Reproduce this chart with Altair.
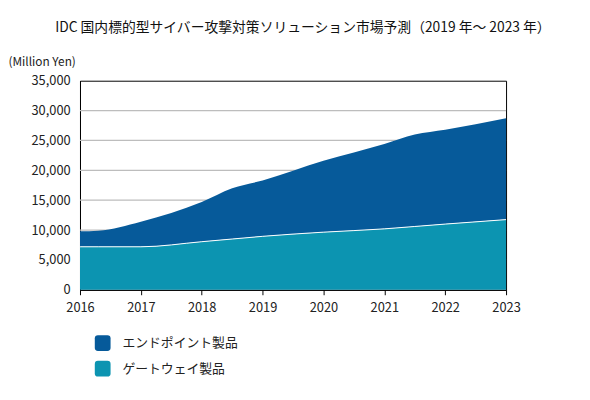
import altair as alt
import pandas as pd

years = [2016, 2016.3, 2017, 2018, 2018.5, 2019, 2020, 2021, 2021.5, 2022, 2023]
gateway = [7200, 7200, 7200, 8050, 8500, 8950, 9650, 10200, 10600, 11000, 11750]
total = [9800, 9900, 11400, 14700, 17000, 18300, 21600, 24400, 26000, 26800, 28700]
endpoint = [t - g for t, g in zip(total, gateway)]
yticks = [0, 5000, 10000, 15000, 20000, 25000, 30000, 35000]
xticks = [2016, 2017, 2018, 2019, 2020, 2021, 2022, 2023]

series = ["エンドポイント製品", "ゲートウェイ製品"]
colors = ["#065A9A", "#0C94B1"]

rows = []
for x, e, g in zip(years, endpoint, gateway):
    rows.append({"year": x, "series": series[0], "value": e, "ord": 2})
    rows.append({"year": x, "series": series[1], "value": g, "ord": 1})
df = pd.DataFrame(rows)
gdf = pd.DataFrame({"year": years, "value": gateway})
tdf = pd.DataFrame({"value": yticks[1:-1]})

FONT = "Noto Sans CJK JP"
rounded = ("M -0.6,-1 L 0.6,-1 Q 1,-1 1,-0.6 L 1,0.6 Q 1,1 0.6,1 "
           "L -0.6,1 Q -1,1 -1,0.6 L -1,-0.6 Q -1,-1 -0.6,-1 Z")

xscale = alt.Scale(domain=[2016, 2023], nice=False)
yscale = alt.Scale(domain=[0, 35000], nice=False)

yaxis = alt.Axis(values=yticks, format=",.0f", ticks=False,
                 labelOverlap=False, domainColor="#000", grid=False, labelFontSize=13,
                 labelColor="#222", labelFont=FONT, labelPadding=10,
                 title="(Million Yen)", titleAngle=0, titleAlign="left",
                 titleBaseline="middle", titleX=-73, titleY=-19, titleFontSize=12,
                 titleFontWeight="normal", titleFont=FONT, titleColor="#222")
xaxis = alt.Axis(values=xticks, format="d", title=None, grid=False,
                 labelFontSize=13, labelColor="#222", labelFont=FONT, tickSize=5,
                 tickColor="#000", domainColor="#000", labelPadding=7, labelFlush=False,
                 labelOverlap=False)

grid = alt.Chart(tdf).mark_rule(color="#bdbdbd", strokeWidth=1.2).encode(
    y=alt.Y("value:Q", scale=yscale, axis=yaxis),
)

area = alt.Chart(df).mark_area(interpolate="monotone").encode(
    x=alt.X("year:Q", scale=xscale, axis=xaxis),
    y=alt.Y("value:Q", stack="zero", scale=yscale, axis=yaxis),
    color=alt.Color("series:N", scale=alt.Scale(domain=series, range=colors),
                    legend=alt.Legend(title=None, orient="none", legendX=15, legendY=258,
                                      symbolType=rounded, symbolSize=256, symbolStrokeWidth=0,
                                      labelFontSize=13, labelFont=FONT, labelColor="#222",
                                      rowPadding=10, labelOffset=12)),
    order=alt.Order("ord:Q"),
)

line = alt.Chart(gdf).mark_line(color="white", strokeWidth=1, interpolate="monotone").encode(
    x=alt.X("year:Q", scale=xscale, axis=xaxis),
    y=alt.Y("value:Q", scale=yscale, axis=yaxis),
)

chart = alt.layer(grid, area, line).properties(
    width=432, height=212,
    autosize=alt.AutoSizeParams(type="none"),
    padding={"left": 73, "top": 71, "right": 77, "bottom": 109},
    title=alt.TitleParams("IDC 国内標的型サイバー攻撃対策ソリューション市場予測（2019 年～ 2023 年）",
                          font=FONT, fontSize=14, fontWeight="normal", color="#111",
                          anchor="middle", dx=10, offset=21),
).configure_view(stroke="#000", strokeWidth=1)

chart.save("out.html", embed_options={"renderer": "svg", "actions": False})
